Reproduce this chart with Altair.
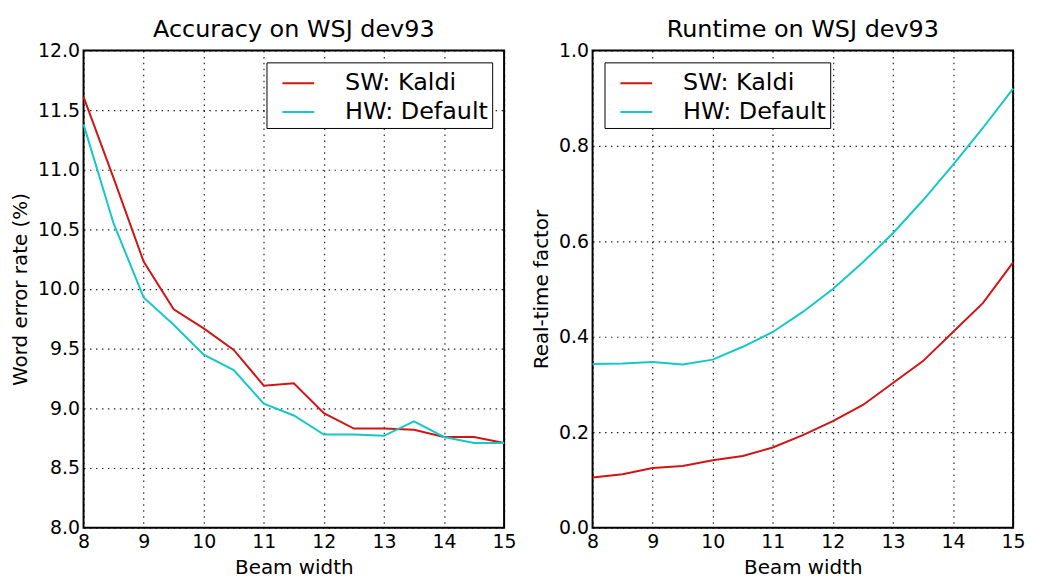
import altair as alt
import pandas as pd

beam = [8, 8.5, 9, 9.5, 10, 10.5, 11, 11.5, 12, 12.5, 13, 13.5, 14, 14.5, 15]

wer_sw = [11.61, 10.93, 10.23, 9.83, 9.67, 9.49, 9.19, 9.21, 8.96, 8.83, 8.83, 8.82, 8.76, 8.76, 8.71]
wer_hw = [11.38, 10.55, 9.93, 9.70, 9.45, 9.32, 9.04, 8.94, 8.78, 8.78, 8.77, 8.89, 8.76, 8.71, 8.71]

rtf_sw = [0.105, 0.112, 0.125, 0.129, 0.141, 0.150, 0.168, 0.194, 0.223, 0.257, 0.303, 0.349, 0.410, 0.471, 0.556]
rtf_hw = [0.343, 0.344, 0.347, 0.342, 0.352, 0.379, 0.410, 0.452, 0.500, 0.556, 0.617, 0.686, 0.760, 0.838, 0.920]

series = ["SW: Kaldi", "HW: Default"]
colors = ["#d01515", "#15c8c8"]

acc = pd.DataFrame({
    "beam": beam * 2,
    "value": wer_sw + wer_hw,
    "series": [series[0]] * len(beam) + [series[1]] * len(beam),
})
rt = pd.DataFrame({
    "beam": beam * 2,
    "value": rtf_sw + rtf_hw,
    "series": [series[0]] * len(beam) + [series[1]] * len(beam),
})

FONT = "DejaVu Sans"


def panel(df, title, ytitle, ydomain, ystep, legend_orient):
    yticks = []
    v = ydomain[0]
    while v <= ydomain[1] + 1e-9:
        yticks.append(round(v, 3))
        v += ystep
    return (
        alt.Chart(df)
        .mark_line(strokeWidth=2)
        .encode(
            x=alt.X(
                "beam:Q",
                scale=alt.Scale(domain=[8, 15], nice=False),
                axis=alt.Axis(values=list(range(8, 16)), title="Beam width", format="d"),
            ),
            y=alt.Y(
                "value:Q",
                scale=alt.Scale(domain=ydomain, nice=False),
                axis=alt.Axis(values=yticks, title=ytitle, format=".1f"),
            ),
            color=alt.Color(
                "series:N",
                scale=alt.Scale(domain=series, range=colors),
                sort=series,
                legend=alt.Legend(
                    title=None,
                    orient=legend_orient,
                    offset=12,
                    strokeColor="black",
                    fillColor="white",
                    padding=4,
                    labelFontSize=24,
                    labelFont=FONT,
                    labelColor="black",
                    symbolType="stroke",
                    symbolSize=1024,
                    symbolStrokeWidth=2,
                    symbolOffset=11,
                    labelOffset=30,
                    rowPadding=0,
                ),
            ),
        )
        .properties(
            width=423,
            height=480,
            title=alt.TitleParams(title, fontSize=24, font=FONT, fontWeight="normal", color="black", offset=0),
        )
    )


left = panel(acc, "Accuracy on WSJ dev93", "Word error rate (%)", [8, 12], 0.5, "top-right")
right = panel(rt, "Runtime on WSJ dev93", "Real-time factor", [0, 1], 0.2, "top-left")

chart = (
    alt.hconcat(left, right, spacing=12)
    .resolve_scale(color="independent")
    .properties(padding={"left": 1, "top": 7, "right": 5, "bottom": 2})
    .configure_view(stroke="black", strokeWidth=2)
    .configure_axis(
        grid=True,
        gridColor="black",
        gridDash=[1.5, 4.5],
        gridOpacity=0.85,
        gridWidth=1.2,
        domain=False,
        ticks=False,
        labelFont=FONT,
        labelFontSize=19,
        labelColor="black",
        titleFont=FONT,
        titleFontSize=20,
        titleFontWeight="normal",
        titleColor="black",
    )
    .configure_axisY(labelPadding=4, titlePadding=7)
    .configure_axisX(labelAlign="center", labelPadding=5, titlePadding=6)
)

chart.save("out.html", embed_options={"renderer": "svg", "actions": False})
